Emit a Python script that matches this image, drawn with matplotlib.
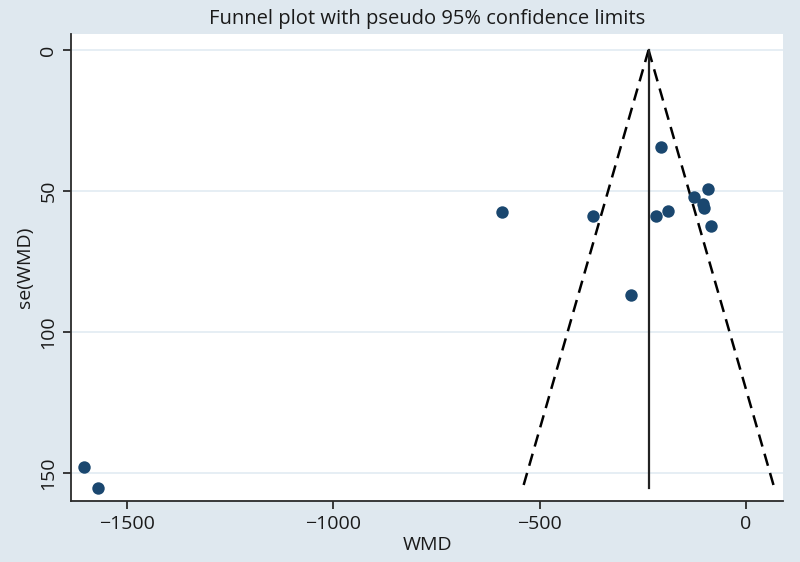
import numpy as np
import matplotlib.pyplot as plt

# study estimates (WMD) and their standard errors
wmd = [-591, -370, -206, -92, -126, -101, -104, -190, -219, -85, -278, -1602, -1570]
se_wmd = [57.3, 59.0, 34.4, 49.3, 52.0, 56.0, 54.6, 57.0, 59.0, 62.4, 86.9, 147.8, 155.4]

pooled = -236
se_max = 155.4

x_ticks = [-1500, -1000, -500, 0]
y_ticks = [0, 50, 100, 150]

bg = '#dfe8ef'
navy = '#1a476f'

plt.rcParams['font.family'] = ['Open Sans', 'DejaVu Sans']

fig = plt.figure(figsize=(8, 5.62), dpi=100, facecolor=bg)
ax = fig.add_axes([0.089, 0.1085, 0.89, 0.831])
ax.set_facecolor('white')

# pseudo 95% confidence limits
se_line = np.array([0, se_max])
ax.plot(pooled - 1.96 * se_line, se_line, color='black', ls=(0, (5, 3)), lw=1.8)
ax.plot(pooled + 1.96 * se_line, se_line, color='black', ls=(0, (5, 3)), lw=1.8)
ax.plot([pooled, pooled], [0, se_max], color='#222222', lw=1.6)

ax.scatter(wmd, se_wmd, s=80, color=navy, zorder=3, linewidths=0)

ax.set_xlim(-1634, 90)
ax.set_ylim(160, -5.7)
ax.set_xticks(x_ticks)
ax.set_xticklabels(['\u22121500', '\u22121000', '\u2212500', '0'])
ax.set_yticks(y_ticks)
ax.set_yticklabels([str(v) for v in y_ticks], rotation=90, va='center')

for v in y_ticks:
    ax.axhline(v, color='#e4edf3', lw=1.3, zorder=0)

for s in ['top', 'right']:
    ax.spines[s].set_visible(False)
for s in ['left', 'bottom']:
    ax.spines[s].set_color('#2a2a2a')
    ax.spines[s].set_linewidth(1.3)

ax.tick_params(direction='out', length=6, width=1.3, color='#2a2a2a',
               labelsize=14, pad=4, labelcolor='#1a1a1a')

ax.set_xlabel('WMD', fontsize=14, color='#1a1a1a', labelpad=2)
ax.set_ylabel('se(WMD)', fontsize=14, color='#1a1a1a', labelpad=4)
ax.set_title('Funnel plot with pseudo 95% confidence limits', fontsize=14.5,
             pad=7, color='#1a1a1a')

fig.savefig('out.png', dpi=100, facecolor=bg)
